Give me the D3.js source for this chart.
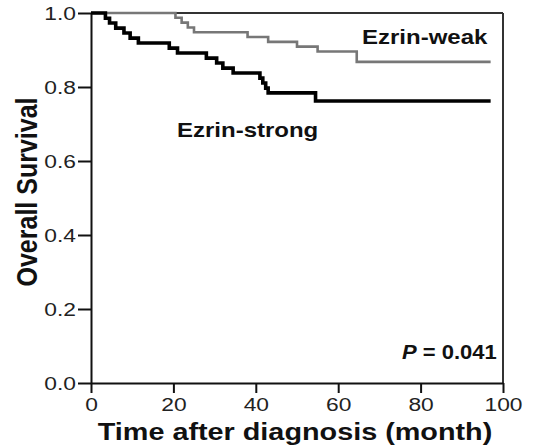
<!DOCTYPE html>
<html>
<head>
<meta charset="utf-8">
<script src="https://cdn.jsdelivr.net/npm/d3@7"></script>
<style>
  body { margin: 0; background: #fff; }
  svg { display: block; font-family: "Liberation Sans", Arial, sans-serif; }
</style>
</head>
<body>
<svg id="chart" width="539" height="447"></svg>
<script>
// Kaplan-Meier step data (month, survival)
const weakMonths = [0, 20.5, 22, 23.5, 25, 38, 43, 50, 55, 64.5, 97];
const weakSurv = [1.0, 0.987, 0.974, 0.961, 0.948, 0.935, 0.922, 0.909, 0.896, 0.868, 0.868];

const strongMonths = [0, 3.5, 4.5, 6, 8, 9.5, 11.5, 19, 21, 28, 30.5, 32, 34.5, 41, 41.7, 42.4, 43, 54.5, 97];
const strongSurv = [1.0, 0.986, 0.973, 0.959, 0.946, 0.932, 0.919, 0.905, 0.892, 0.878, 0.865, 0.851, 0.838, 0.824, 0.811, 0.797, 0.784, 0.762, 0.762];

const xTicks = [0, 20, 40, 60, 80, 100];
const yTicks = [0.0, 0.2, 0.4, 0.6, 0.8, 1.0];

const svg = d3.select("#chart");

// scales (plot box spans x 91..503, y 13..383)
const x = d3.scaleLinear().domain([0, 100]).range([91, 503]);
const y = d3.scaleLinear().domain([0, 1]).range([383, 13]);

const sx = 1.2; // the figure looks stretched horizontally

// frame: top and right border
svg.append("line")
  .attr("x1", x(0)).attr("x2", x(100))
  .attr("y1", y(1)).attr("y2", y(1))
  .attr("stroke", "#333").attr("stroke-width", 2);
svg.append("line")
  .attr("x1", x(100)).attr("x2", x(100))
  .attr("y1", y(1)).attr("y2", y(0))
  .attr("stroke", "#333").attr("stroke-width", 2);

// x axis
const xAxis = svg.append("g")
  .attr("transform", `translate(0,${y(0)})`)
  .call(d3.axisBottom(x).tickValues(xTicks).tickSize(10).tickSizeOuter(0).tickFormat(d3.format("d")));
xAxis.select(".domain").attr("stroke", "#111").attr("stroke-width", 2);
xAxis.selectAll(".tick line").attr("stroke", "#111").attr("stroke-width", 2);
xAxis.selectAll(".tick text")
  .attr("font-size", 19).attr("fill", "#222")
  .attr("y", 15).attr("x", 0)
  .attr("transform", `scale(${sx},1)`);

// y axis
const yAxis = svg.append("g")
  .attr("transform", `translate(${x(0)},0)`)
  .call(d3.axisLeft(y).tickValues(yTicks).tickSize(13).tickSizeOuter(0).tickFormat(d3.format(".1f")));
yAxis.select(".domain").attr("stroke", "#111").attr("stroke-width", 2);
yAxis.selectAll(".tick line").attr("stroke", "#111").attr("stroke-width", 2);
yAxis.selectAll(".tick text")
  .attr("font-size", 19).attr("fill", "#222")
  .attr("x", -15 / sx)
  .attr("transform", `scale(${sx},1)`);

// survival curves
const line = d3.line()
  .x(d => x(d[0]))
  .y(d => y(d[1]))
  .curve(d3.curveStepAfter);

svg.append("path")
  .datum(weakMonths.map((m, i) => [m, weakSurv[i]]))
  .attr("fill", "none")
  .attr("stroke", "#777")
  .attr("stroke-width", 2.6)
  .attr("d", line);

svg.append("path")
  .datum(strongMonths.map((m, i) => [m, strongSurv[i]]))
  .attr("fill", "none")
  .attr("stroke", "#000")
  .attr("stroke-width", 3.6)
  .attr("d", line);

// helper for stretched bold labels
function label(txt, px, py, size, anchor) {
  return svg.append("text")
    .attr("transform", `translate(${px},${py}) scale(${sx},1)`)
    .attr("text-anchor", anchor || "start")
    .attr("font-size", size)
    .attr("font-weight", "bold")
    .attr("fill", "#111")
    .text(txt);
}

label("Ezrin-weak", 362, 44, 20);
label("Ezrin-strong", 177, 137, 20);

const p = svg.append("text")
  .attr("transform", `translate(402,359) scale(1.1,1)`)
  .attr("font-size", 20)
  .attr("font-weight", "bold")
  .attr("fill", "#111");
p.append("tspan").attr("font-style", "italic").text("P");
p.append("tspan").text(" = 0.041");

// axis titles
label("Time after diagnosis (month)", 295, 440, 24, "middle");

svg.append("text")
  .attr("transform", `translate(37,192) scale(${sx},1) rotate(-90)`)
  .attr("text-anchor", "middle")
  .attr("font-size", 25)
  .attr("font-weight", "bold")
  .attr("fill", "#111")
  .text("Overall Survival");
</script>
</body>
</html>
